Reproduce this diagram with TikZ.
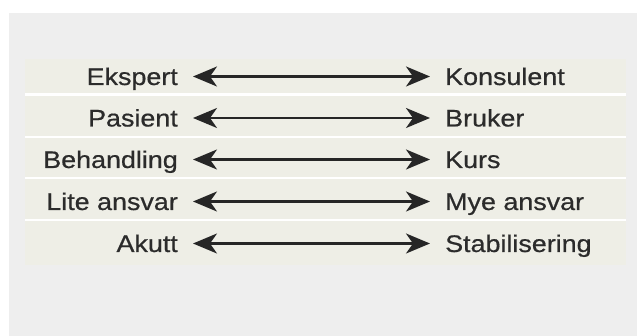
\documentclass[tikz,border=0pt]{standalone}
\usepackage{fontspec}
\setmainfont{Liberation Sans}[FakeStretch=1.12,FakeBold=0.6]
\usetikzlibrary{positioning,arrows.meta}

\definecolor{panelgray}{HTML}{EEEEEE}
\definecolor{stripgray}{HTML}{EEEEE6}
\definecolor{inkgray}{HTML}{2B2B2B}

\begin{document}
\begin{tikzpicture}
     [ x=1pt, y=-1pt,
       word/.style={inner sep=0pt, text height=17pt, text depth=0pt,
                    font=\fontsize{24}{28}\selectfont, text=inkgray},
       leftword/.style={word, anchor=base east},
       rightword/.style={word},
       strip/.style={fill=stripgray},
       pole/.style={draw=black!85, line width=2.4pt, {Stealth[length=24pt,width=20pt,inset=7pt]}-{Stealth[length=24pt,width=20pt,inset=7pt]},
                    shorten <=15pt, shorten >=15pt}]
   \useasboundingbox (0,0) rectangle (637,336);
   \fill[white] (0,0) rectangle (637,336);
   \fill[panelgray] (9,13) rectangle (637,336);
   % strips, white gaps between them
   \fill[white] (25,59) rectangle (626,265);
   \fill[strip] (25,59) rectangle (626,93.5);
   \fill[strip] (25,96) rectangle (626,136);
   \fill[strip] (25,138.5) rectangle (626,177);
   \fill[strip] (25,179.5) rectangle (626,219);
   \fill[strip] (25,221.5) rectangle (626,265);
   % left words
   \node (ekspert) [leftword] at (178,85) {Ekspert};
   \node (pasient) [leftword] at (178,126.5) {Pasient};
   \node (behandling) [leftword] at (178,168) {Behandling};
   \node (lite) [leftword] at (178,210) {Lite ansvar};
   \node (akutt) [leftword] at (178,252) {Akutt};
   % right words
   \node (konsulent) [rightword, right=267pt of ekspert] {Konsulent};
   \node (bruker) [rightword, right=267pt of pasient] {Bruker};
   \node (kurs) [rightword, right=267pt of behandling] {Kurs};
   \node (mye) [rightword, right=267pt of lite] {Mye ansvar};
   \node (stabil) [rightword, right=267pt of akutt] {Stabilisering};
   \draw[pole] (ekspert) -- (konsulent);
   \draw[pole] (pasient) -- (bruker);
   \draw[pole] (behandling) -- (kurs);
   \draw[pole] (lite) -- (mye);
   \draw[pole] (akutt) -- (stabil);
\end{tikzpicture}
\end{document}
